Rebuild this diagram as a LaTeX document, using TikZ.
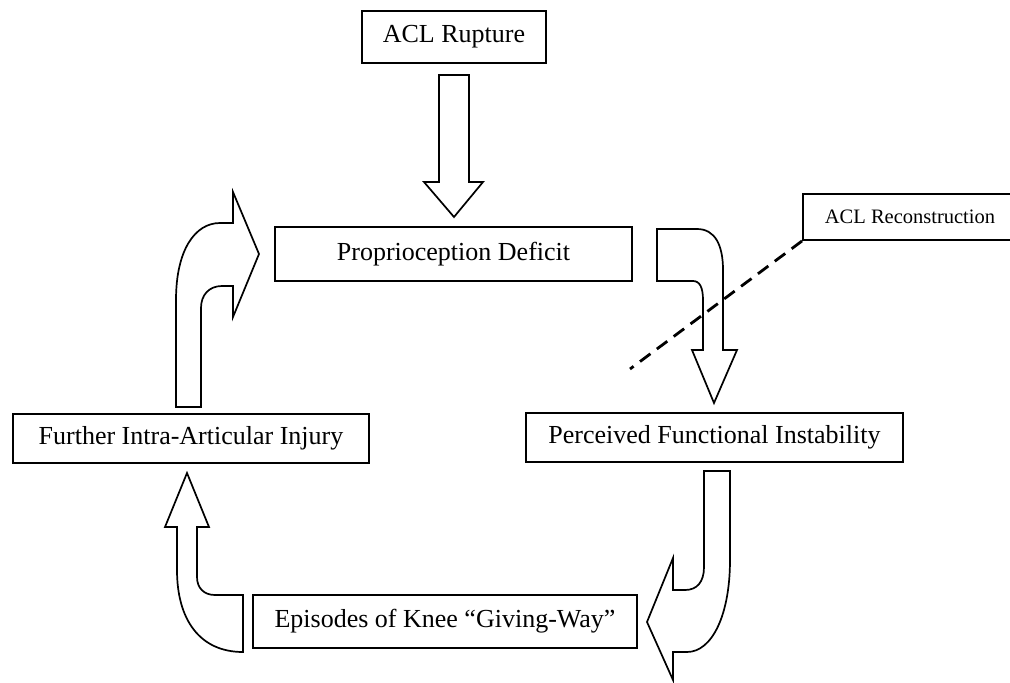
\documentclass[tikz,border=0pt]{standalone}
\usepackage{fontspec}
\setmainfont{Liberation Serif}
\begin{document}
\begin{tikzpicture}[x=1pt,y=-1pt,
  box/.style={draw, line width=1.9pt, inner sep=0pt, align=center,
    font=\fontsize{26}{30}\selectfont},
  blockarrow/.style={draw, line width=1.7pt, fill=white, line join=miter},
  cutline/.style={line width=2.8pt, dash pattern=on 13pt off 8pt}]
\useasboundingbox (0,0) rectangle (1010,683);

\node[box, minimum width=184pt, minimum height=52pt] (rupture) at (454,37) {ACL Rupture};
\node[box, minimum width=357pt, minimum height=54pt] (prop) at (453.5,254) {Proprioception Deficit};
\node[box, minimum width=214pt, minimum height=46pt, font=\fontsize{20.5}{24}\selectfont] (recon) at (910,217) {ACL Reconstruction};
\node[box, minimum width=377pt, minimum height=49pt] (perc) at (714.5,437.5) {Perceived Functional Instability};
\node[box, minimum width=356pt, minimum height=49pt] (further) at (191,438.5) {Further Intra-Articular Injury};
\node[box, minimum width=384pt, minimum height=53pt] (episodes) at (445,621.5) {Episodes of Knee “Giving-Way”};

% rupture -> proprioception (straight block arrow)
\draw[blockarrow] (439,75) -- (469,75) -- (469,182) -- (483,182) -- (454,217)
  -- (424,182) -- (439,182) -- cycle;

% proprioception -> perceived (bent down arrow)
\draw[blockarrow] (657,229) -- (697,229) .. controls (715,229) and (723,245) .. (723,270)
  -- (723,350) -- (737,350) -- (714,403) -- (692,350) -- (703,350) -- (703,300)
  .. controls (703,288) and (700,281) .. (693,281) -- (657,281) -- cycle;

% perceived -> episodes (bent left arrow)
\draw[blockarrow] (704,471) -- (730,471) -- (730,560) .. controls (730,615) and (712,652) .. (687,652)
  -- (673,652) -- (673,680) -- (647,622) -- (673,558) -- (673,590) -- (685,590)
  .. controls (697,590) and (704,582) .. (704,567) -- cycle;

% episodes -> further (bent up arrow)
\draw[blockarrow] (177,527) -- (165,527) -- (187,473) -- (209,527) -- (197,527) -- (197,577)
  .. controls (197,588) and (204,595) .. (215,595) -- (243,595) -- (243,652)
  .. controls (200,652) and (177,620) .. (177,570) -- cycle;

% further -> proprioception (bent right arrow)
\draw[blockarrow] (176,407) -- (176,300) .. controls (176,250) and (195,223) .. (220,223)
  -- (233,223) -- (233,192) -- (259,254) -- (233,317) -- (233,286) -- (222,286)
  .. controls (209,286) and (201,295) .. (201,308) -- (201,407) -- cycle;

% reconstruction cut line
\coordinate (cutend) at (630,369);
\draw[cutline] (recon.south west) -- (cutend);
\end{tikzpicture}
\end{document}
